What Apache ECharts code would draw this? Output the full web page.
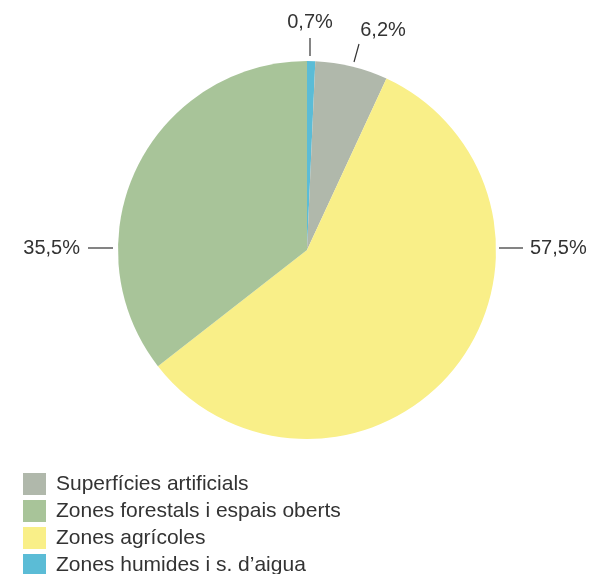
<!DOCTYPE html>
<html>
<head>
<meta charset="utf-8">
<script src="https://cdn.jsdelivr.net/npm/echarts@6/dist/echarts.min.js"></script>
<style>
  html, body { margin: 0; padding: 0; background: #fff; }
  #chart { width: 592px; height: 574px; }
</style>
</head>
<body>
<div id="chart"></div>
<script>
// slice order clockwise from the top
const categories = ['Zones humides i s. d\u2019aigua', 'Superfícies artificials', 'Zones agrícoles', 'Zones forestals i espais oberts']
const values = [0.7, 6.2, 57.5, 35.5]
const colors = ['#5bbcd6', '#b0b8ab', '#f9ef88', '#a8c499']
const legendOrder = ['Superfícies artificials', 'Zones forestals i espais oberts', 'Zones agrícoles', 'Zones humides i s. d\u2019aigua']

// where each label sits and how its leader line runs
const labelSpots = [
  { x: 310, y: 22, align: 'center', line: [[310, 56], [310, 38]] },
  { x: 383, y: 30, align: 'center', line: [[354, 62], [359, 44]] },
  { x: 530, y: 248, align: 'left', line: [[499, 248], [523, 248]] },
  { x: 80, y: 248, align: 'right', line: [[113, 248], [88, 248]] }
]

const chart = echarts.init(document.getElementById('chart'))

chart.setOption({
  animation: false,
  legend: {
    data: legendOrder,
    orient: 'vertical',
    left: 23,
    top: 473,
    height: 120,
    padding: 0,
    icon: 'rect',
    itemWidth: 23,
    itemHeight: 22,
    itemGap: 5,
    selectedMode: false,
    textStyle: {
      fontFamily: 'Liberation Sans',
      fontSize: 21,
      color: '#333',
      padding: [0, 0, 0, 5]
    }
  },
  series: [
    {
      type: 'pie',
      center: [307, 250],
      radius: 189,
      startAngle: 90,
      clockwise: true,
      avoidLabelOverlap: false,
      emphasis: { disabled: true },
      data: categories.map((name, i) => ({
        name,
        value: values[i],
        itemStyle: { color: colors[i] }
      })),
      label: {
        show: true,
        position: 'outside',
        formatter: p => String(p.value).replace('.', ',') + '%',
        fontFamily: 'Liberation Sans',
        fontSize: 20,
        color: '#333'
      },
      labelLine: {
        show: true,
        lineStyle: { color: '#333', width: 1.2 }
      },
      labelLayout: function (params) {
        const s = labelSpots[params.dataIndex]
        return {
          x: s.x,
          y: s.y,
          align: s.align,
          verticalAlign: 'middle',
          labelLinePoints: s.line
        }
      }
    }
  ]
})
</script>
</body>
</html>
